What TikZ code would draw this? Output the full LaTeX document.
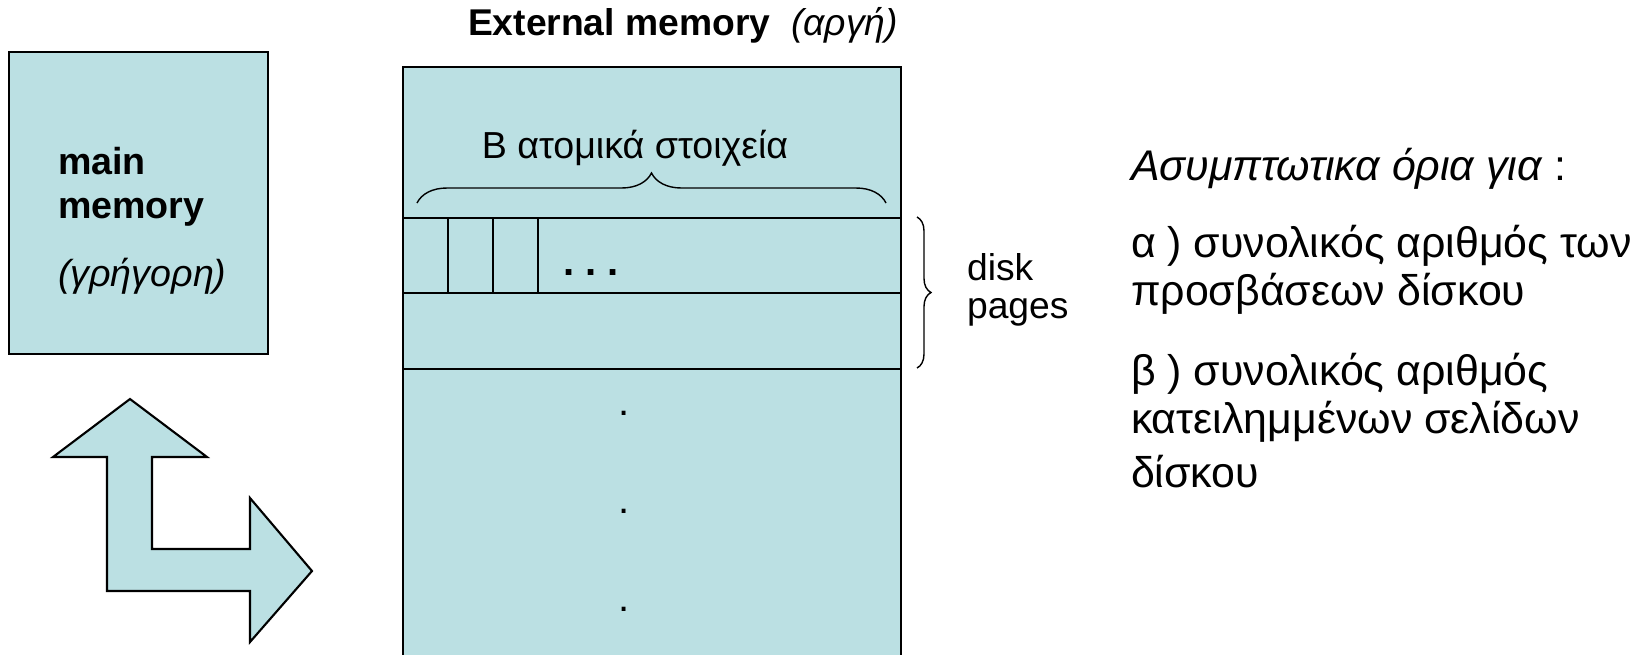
\documentclass[tikz,border=0pt]{standalone}
\usepackage{fontspec}
\setmainfont{Liberation Sans}
\usetikzlibrary{decorations.pathreplacing}
\usepackage{xcolor}

\definecolor{memblue}{RGB}{187,224,227}

\begin{document}
\begin{tikzpicture}
	[line width=0.6,
	box/.style = {
		draw,
		fill=memblue,
		inner sep=0cm
	},
	thinline/.style = {
		line width=0.5
	},
	lbl/.style = {
		anchor=base west, inner sep=0cm
	},
	bigtxt/.style = {
		lbl, font=\fontsize{12.2}{14}\selectfont
	},
	curly/.style = {
		decorate, line width=0.4,
		decoration={brace, amplitude=#1}
	}]
	
	\useasboundingbox (0,0) rectangle (16.43,6.54);
	
	%Draw boxes
	\node[box, minimum width=2.59cm, minimum height=3.02cm, anchor=north west] at (0.08,6.03) (mainmem) {};
	\node[box, minimum width=4.98cm, minimum height=6.1cm, anchor=north west] at (4.02,5.88) (extmem) {};
	
	%transfer arrow
	\draw[box] (1.30,2.55) -- (0.53,1.97) -- (1.07,1.97) -- (1.07,0.63)
	-- (2.50,0.63) -- (2.50,0.12) -- (3.12,0.83) -- (2.50,1.56)
	-- (2.50,1.05) -- (1.52,1.05) -- (1.52,1.97) -- (2.07,1.97) -- cycle;
	
	%Draw nodes
	\node[lbl, font=\fontsize{10.7}{12.5}\selectfont\bfseries] at (0.57,4.80) (mainl) {main};
	\node[lbl, font=\fontsize{10.7}{12.5}\selectfont\bfseries] at (0.57,4.36) (memoryl) {memory};
	\node[lbl, font=\fontsize{10.7}{12.5}\selectfont\itshape] at (0.57,3.68) (fast) {(γρήγορη)};
	
	\node[lbl, font=\fontsize{10.6}{12}\selectfont] at (4.67,6.19) (exttitle) {\textbf{External memory}\ \ \textit{(αργή)}};
	
	\node[anchor=base, inner sep=0cm, font=\fontsize{10.7}{12}\selectfont] at (6.35,4.96) (items) {Β ατομικά στοιχεία};
	\node[lbl, font=\fontsize{11.4}{13}\selectfont\bfseries] at (5.62,3.79) (hdots) {.\ .\ .};
	
	\node[inner sep=0cm, font=\fontsize{11.4}{13}\selectfont] at (6.24,2.41) (vdot1) {.};
	\node[inner sep=0cm, font=\fontsize{11.4}{13}\selectfont] at (6.24,1.43) (vdot2) {.};
	\node[inner sep=0cm, font=\fontsize{11.4}{13}\selectfont] at (6.24,0.45) (vdot3) {.};
	
	\node[lbl, font=\fontsize{10.6}{12}\selectfont] at (9.66,3.74) (disk) {disk};
	\node[lbl, font=\fontsize{10.6}{12}\selectfont] at (9.66,3.36) (pages) {pages};
	
	\node[bigtxt] at (11.30,4.74) (bounds) {\textit{Ασυμπτωτικα όρια για} :};
	\node[bigtxt] at (11.30,3.97) (qa1) {α ) συνολικός αριθμός των};
	\node[bigtxt] at (11.30,3.49) (qa2) {προσβάσεων δίσκου};
	\node[bigtxt] at (11.30,2.69) (qb1) {β ) συνολικός αριθμός};
	\node[bigtxt] at (11.30,2.21) (qb2) {κατειλημμένων σελίδων};
	\node[bigtxt] at (11.30,1.67) (qb3) {δίσκου};
	
	\coordinate (row1w) at (4.02,4.36);
	\coordinate (row1e) at (9.00,4.36);
	\coordinate (row2w) at (4.02,3.61);
	\coordinate (row2e) at (9.00,3.61);
	\coordinate (row3w) at (4.02,2.85);
	\coordinate (row3e) at (9.00,2.85);
	\coordinate (cell1t) at (4.48,4.36);
	\coordinate (cell1b) at (4.48,3.61);
	\coordinate (cell2t) at (4.93,4.36);
	\coordinate (cell2b) at (4.93,3.61);
	\coordinate (cell3t) at (5.38,4.36);
	\coordinate (cell3b) at (5.38,3.61);
	
	\coordinate (bracel) at (4.17,4.51);
	\coordinate (bracer) at (8.86,4.51);
	\coordinate (pagetop) at (9.17,4.37);
	\coordinate (pagebot) at (9.17,2.86);
	
	%Draw lines
	\draw (row1w) -- (row1e);
	\draw (row2w) -- (row2e);
	\draw (row3w) -- (row3e);
	\draw[thinline] (cell1t) -- (cell1b);
	\draw[thinline] (cell2t) -- (cell2b);
	\draw[thinline] (cell3t) -- (cell3b);
	
	%braces
	\draw[curly=0.3cm] (bracel) -- (bracer);
	\draw[curly=0.14cm] (pagetop) -- (pagebot);
	
\end{tikzpicture}
\end{document}
